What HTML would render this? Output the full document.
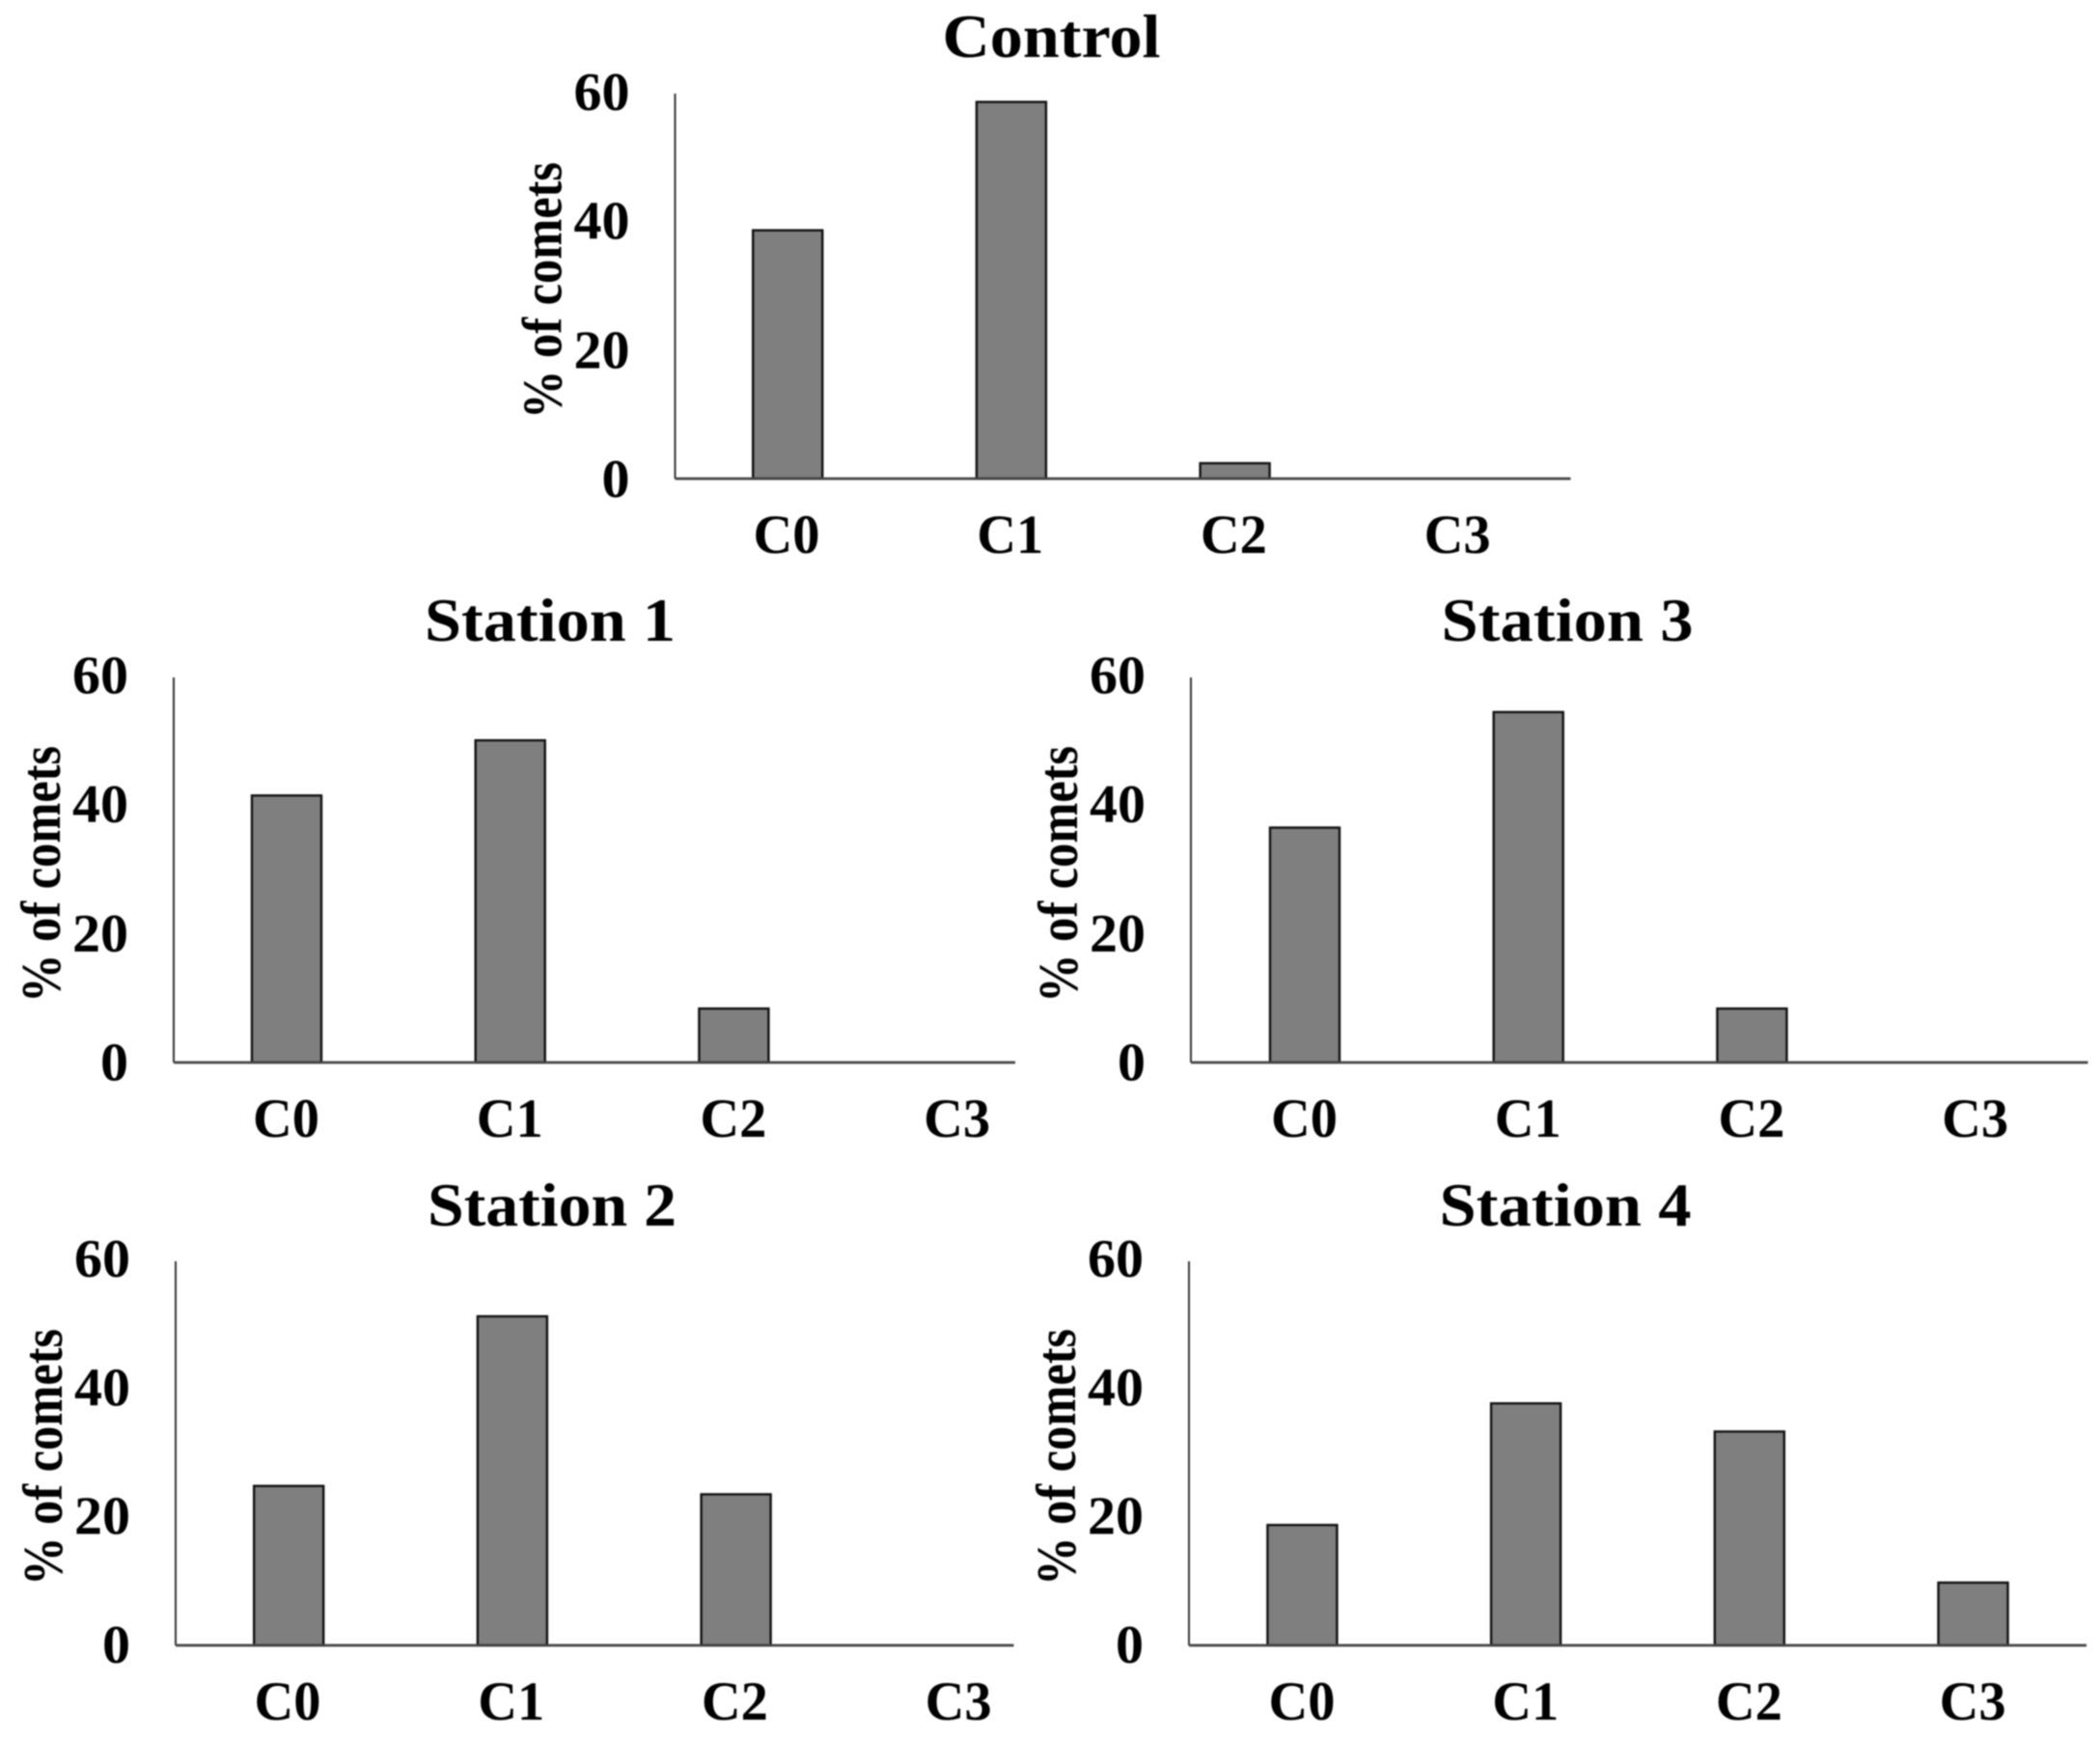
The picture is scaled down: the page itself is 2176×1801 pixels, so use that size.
<!DOCTYPE html>
<html>
<head>
<meta charset="utf-8">
<title>Percentage of comets by class</title>
<style>
html,body{margin:0;padding:0;background:#fff;}
svg{display:block;filter:blur(0.7px);}
text{font-family:"Liberation Serif",serif;font-weight:bold;fill:#000;}
</style>
</head>
<body>
<svg id="figure" xmlns="http://www.w3.org/2000/svg" width="2176" height="1801" viewBox="0 0 2176 1801"></svg>
<script>
const categories = ["C0", "C1", "C2", "C3"];
const yTicks = [0, 20, 40, 60];
const yMax = 60;
const yAxisLabel = "% of comets";

const controlValues = [38.7, 58.7, 2.4, 0];
const station1Values = [41.6, 50.2, 8.4, 0];
const station2Values = [24.9, 51.4, 23.6, 0];
const station3Values = [36.6, 54.6, 8.4, 0];
const station4Values = [18.8, 37.8, 33.4, 9.8];

const panels = [
  {title: "Control", slug: "control", values: controlValues, x0: 699.5, right: 1627.5, top: 97, base: 496, first: 815, barShift: 1.2, titleW: 226, titleDy: 0, tickDy: 1},
  {title: "Station 1", slug: "station-1", values: station1Values, x0: 180, right: 1052, top: 702, base: 1101, first: 296.5, barShift: 0.5, titleW: 260, titleDy: 0, tickDy: 0.5},
  {title: "Station 3", slug: "station-3", values: station3Values, x0: 1234, right: 2163.5, top: 702, base: 1101, first: 1351.5, barShift: 0.5, titleW: 261, titleDy: 0, tickDy: 0.5},
  {title: "Station 2", slug: "station-2", values: station2Values, x0: 182, right: 1050.5, top: 1307, base: 1705, first: 298, barShift: 1.2, titleW: 258, titleDy: 2, tickDy: 0},
  {title: "Station 4", slug: "station-4", values: station4Values, x0: 1232, right: 2162, top: 1307, base: 1705, first: 1349, barShift: 0.4, titleW: 261, titleDy: 2, tickDy: 0}
];

const BAND = 231.7;
const BAR_W = 72;
const NS = "http://www.w3.org/2000/svg";
const svg = document.getElementById("figure");

function make(parent, tag, attrs) {
  const el = document.createElementNS(NS, tag);
  for (const k in attrs) el.setAttribute(k, attrs[k]);
  parent.appendChild(el);
  return el;
}

panels.forEach(function (p) {
  const yScale = function (v) { return p.base - (v / yMax) * (p.base - p.top); };
  const xScale = function (i) { return p.first + i * BAND; };

  const g = make(svg, "g", {});
  
  

  const title = make(g, "text", {
    x: p.x0 + 390, y: p.base - 437 + p.titleDy, "text-anchor": "middle",
    "font-size": 64, textLength: p.titleW, lengthAdjust: "spacingAndGlyphs"
  });
  title.textContent = p.title;
  
  

  p.values.forEach(function (v, i) {
    const top = yScale(v);
    if (v <= 0) return;
    const bar = make(g, "rect", {
      x: xScale(i) + p.barShift - BAR_W / 2, y: top, width: BAR_W, height: p.base - top,
      fill: "#7f7f7f", stroke: "#111", "stroke-width": 2.4
    });
    
    
  });

  const yAxis = make(g, "line", {x1: p.x0, y1: p.top, x2: p.x0, y2: p.base, stroke: "#333", "stroke-width": 2});
  
  

  const xAxis = make(g, "line", {x1: p.x0, y1: p.base, x2: p.right, y2: p.base, stroke: "#444", "stroke-width": 2.8});
  
  

  yTicks.forEach(function (t) {
    const s = String(t);
    const lab = make(g, "text", {
      x: p.x0 - 47, y: yScale(t) + 18 + p.tickDy - t * 0.035, "text-anchor": "end",
      "font-size": 56, textLength: s.length * 29, lengthAdjust: "spacingAndGlyphs"
    });
    lab.textContent = s;
    
    
  });

  categories.forEach(function (c, i) {
    const lab = make(g, "text", {
      x: xScale(i), y: p.base + 77, "text-anchor": "middle",
      "font-size": 57, textLength: 69, lengthAdjust: "spacingAndGlyphs"
    });
    lab.textContent = c;
    
    
  });

  const cx = p.x0 - 118;
  const cy = p.base - 195;
  const yLab = make(g, "text", {
    x: cx, y: cy, "text-anchor": "middle", "font-size": 58,
    textLength: 266, lengthAdjust: "spacingAndGlyphs",
    transform: "rotate(-90 " + cx + " " + cy + ")"
  });
  yLab.textContent = yAxisLabel;
  
  
});
</script>
</body>
</html>
